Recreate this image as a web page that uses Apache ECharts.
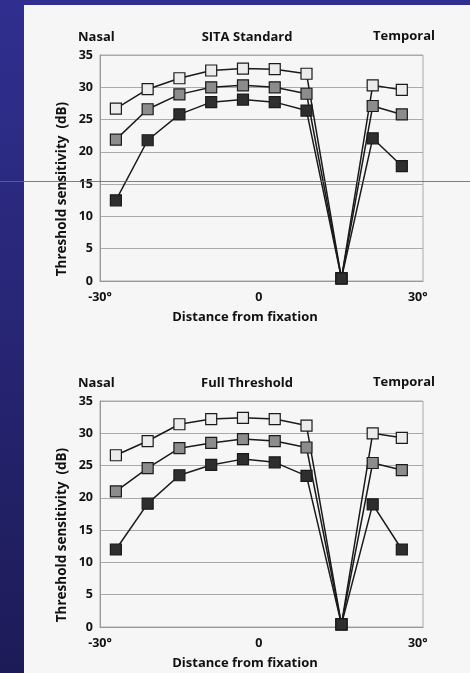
<!DOCTYPE html>
<html>
<head>
<meta charset="utf-8">
<script src="https://cdn.jsdelivr.net/npm/echarts@6/dist/echarts.min.js"></script>
<style>
  html, body { margin: 0; padding: 0; }
  #chart { width: 470px; height: 673px; }
</style>
</head>
<body>
<div id="chart"></div>
<script>
// eccentricity of each test point (degrees, nasal negative)
const positions = [-27, -21, -15, -9, -3, 3, 9, 15.6, 21.5, 27];

// SITA Standard
const sitaLight = [26.7, 29.7, 31.4, 32.6, 32.9, 32.8, 32.1, 0.4, 30.3, 29.6];
const sitaMid = [21.9, 26.6, 28.9, 30.0, 30.3, 30.0, 29.0, 0.4, 27.1, 25.8];
const sitaDark = [12.5, 21.8, 25.8, 27.7, 28.1, 27.7, 26.4, 0.4, 22.1, 17.8];

// Full Threshold
const fullLight = [26.6, 28.8, 31.4, 32.2, 32.4, 32.2, 31.2, 0.4, 30.0, 29.3];
const fullMid = [21.0, 24.6, 27.7, 28.5, 29.1, 28.8, 27.8, 0.4, 25.4, 24.3];
const fullDark = [12.0, 19.1, 23.5, 25.1, 26.0, 25.5, 23.4, 0.4, 19.0, 12.0];

const xTicks = [-30, 0, 30];
const panelTitles = ['SITA Standard', 'Full Threshold'];

const font = '"Open Sans", sans-serif';
const fills = ['#ececec', '#8c8c8c', '#2e2e2e'];

const chart = echarts.init(document.getElementById('chart'));

function pairs(vals) {
  return vals.map((v, i) => [positions[i], v]);
}

function makeSeries(vals, idx, shade) {
  return {
    type: 'line',
    xAxisIndex: idx,
    yAxisIndex: idx,
    data: pairs(vals),
    symbol: 'rect',
    symbolSize: 11,
    showAllSymbol: true,
    lineStyle: { color: '#1a1a1a', width: 1.5 },
    itemStyle: { color: fills[shade], borderColor: '#1a1a1a', borderWidth: 1.2, opacity: 1 },
    emphasis: { disabled: true },
    animation: false,
    z: 2 + shade
  };
}

const tops = [55, 401];

function xAxisFor(i) {
  return {
    gridIndex: i,
    type: 'value',
    min: -30,
    max: 31,
    axisLine: { show: true, onZero: false, lineStyle: { color: '#999', width: 1 } },
    axisTick: { show: false },
    splitLine: { show: false },
    axisLabel: {
      customValues: xTicks,
      margin: 10,
      fontFamily: font,
      fontWeight: 'bold',
      fontSize: 12.5,
      color: '#111',
      formatter: v => (v === 0 ? '0' : v + '°')
    }
  };
}

function yAxisFor(i) {
  return {
    gridIndex: i,
    type: 'value',
    min: 0,
    max: 35,
    interval: 5,
    axisLine: { show: true, onZero: false, lineStyle: { color: '#999', width: 1 } },
    axisTick: { show: false },
    splitLine: { show: true, lineStyle: { color: '#aaa', width: 1 } },
    axisLabel: {
      margin: 7,
      fontFamily: font,
      fontWeight: 'bold',
      fontSize: 12.5,
      color: '#111'
    }
  };
}

const st = { fontFamily: font, fontWeight: 'bold', fontSize: 13, color: '#111' };

function titlesFor(i) {
  const t = tops[i];
  return [
    { text: 'Nasal', left: 78, top: t - 24, padding: 0, textStyle: st },
    { text: panelTitles[i], left: 247, textAlign: 'center', top: t - 24, padding: 0, textStyle: st },
    { text: 'Temporal', left: 373, top: t - 25, padding: 0, textStyle: st },
    { text: 'Distance from fixation', left: 245, textAlign: 'center', top: t + 256, padding: 0, textStyle: st }
  ];
}

function yNameFor(i) {
  return {
    type: 'text',
    x: 62,
    y: tops[i] + 134,
    rotation: Math.PI / 2,
    silent: true,
    style: {
      text: 'Threshold sensitivity  (dB)',
      font: 'bold 13.5px "Open Sans", sans-serif',
      fill: '#111',
      textAlign: 'center',
      textVerticalAlign: 'middle'
    }
  };
}

const option = {
  backgroundColor: {
    type: 'linear', x: 0, y: 0, x2: 0, y2: 1,
    colorStops: [
      { offset: 0, color: '#302f90' },
      { offset: 1, color: '#1d1b57' }
    ]
  },
  animation: false,
  title: titlesFor(0).concat(titlesFor(1)),
  graphic: [
    {
      type: 'rect',
      shape: { x: 24, y: 5, width: 446, height: 668 },
      style: { fill: '#f6f6f6' },
      z: -10,
      silent: true
    },
    yNameFor(0),
    yNameFor(1),
    {
      type: 'line',
      shape: { x1: 0, y1: 181.5, x2: 470, y2: 181.5 },
      style: { stroke: 'rgba(95,95,175,0.85)', lineWidth: 1 },
      z: 100,
      silent: true
    }
  ],
  grid: tops.map(t => ({
    left: 100,
    top: t,
    width: 323,
    height: 226,
    show: true,
    borderColor: '#aaa',
    borderWidth: 1,
    backgroundColor: 'transparent'
  })),
  xAxis: [xAxisFor(0), xAxisFor(1)],
  yAxis: [yAxisFor(0), yAxisFor(1)],
  series: [
    makeSeries(sitaLight, 0, 0),
    makeSeries(sitaMid, 0, 1),
    makeSeries(sitaDark, 0, 2),
    makeSeries(fullLight, 1, 0),
    makeSeries(fullMid, 1, 1),
    makeSeries(fullDark, 1, 2)
  ]
};

chart.setOption(option);
</script>
</body>
</html>
